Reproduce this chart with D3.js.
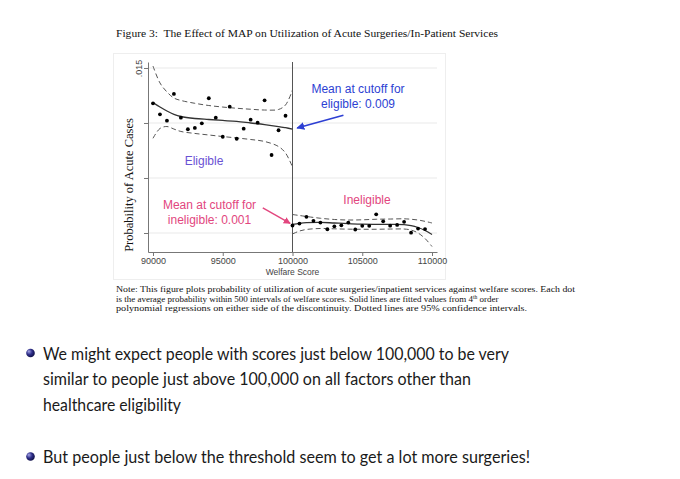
<!DOCTYPE html>
<html>
<head>
<meta charset="utf-8">
<script src="https://cdn.jsdelivr.net/npm/d3@7"></script>
<style>
  body { margin: 0; background: #fff; }
</style>
</head>
<body>
<div id="wrapper"></div>
<script>
// bin midpoints (welfare score) and mean probability per 500-point bin
const leftBins = [90000, 90500, 91000, 91500, 92000, 92500, 93000, 93500, 94000, 94500,
  95000, 95500, 96000, 96500, 97000, 97500, 98000, 98500, 99000, 99500]
const leftMeans = [0.01179, 0.01079, 0.01021, 0.01264, 0.01048, 0.00943, 0.00955, 0.00997, 0.01225, 0.01048,
  0.00875, 0.01148, 0.00857, 0.00948, 0.0103, 0.01003, 0.01206, 0.00709, 0.00934, 0.01066]
const rightBins = [100000, 100500, 101000, 101500, 102000, 102500, 103000, 103500, 104000, 104500,
  105000, 105500, 106000, 106500, 107000, 107500, 108000, 108500, 109000, 109500]
const rightMeans = [0.00068, 0.00086, 0.00147, 0.00111, 0.00095, 0.00034, 0.00061, 0.0007, 0.00095, 0.00032,
  0.00065, 0.00065, 0.0017, 0.00106, 0.00067, 0.00073, 0.00102, 0.00003, 0.0004, 0.00036]

// 4th order polynomial fit + 95% CI
const leftCurveX = [90000, 90500, 91000, 91500, 92000, 93000, 94000, 95000, 96000, 97000, 98000, 99000, 99500, 100000]
const leftFit = [0.01185, 0.01145, 0.01109, 0.01079, 0.01059, 0.01041, 0.01032, 0.01023, 0.01014, 0.01, 0.00986, 0.00968, 0.00957, 0.00945]
const leftUpper = [0.01518, 0.01364, 0.01282, 0.01227, 0.01205, 0.01179, 0.01159, 0.01145, 0.01134, 0.01125, 0.01118, 0.01123, 0.01164, 0.013]
const leftLower = [0.00861, 0.0095, 0.00968, 0.00945, 0.00923, 0.00905, 0.00891, 0.00877, 0.00864, 0.0085, 0.00832, 0.00786, 0.00727, 0.006]

const rightCurveX = [100000, 100500, 101000, 102000, 103000, 104000, 105000, 106000, 107000, 108000, 108500, 109000, 109500, 110000]
const rightFit = [0.00079, 0.00088, 0.00094, 0.00097, 0.00091, 0.00085, 0.0008, 0.00079, 0.00079, 0.00077, 0.00068, 0.0005, 0.00023, -0.00014]
const rightUpper = [0.00168, 0.00159, 0.0015, 0.00134, 0.00123, 0.00118, 0.0012, 0.00125, 0.00127, 0.00129, 0.00125, 0.00118, 0.00106, 0.00091]
const rightLower = [-0.00009, 0.00018, 0.00032, 0.00041, 0.00038, 0.00035, 0.00034, 0.00034, 0.00036, 0.00036, 0.00027, 0.0, -0.0005, -0.00123]

const xTicks = [90000, 95000, 100000, 105000, 110000]
const yTicks = [0, 0.005, 0.01, 0.015]
const cutoff = 100000

const titleText = 'Figure 3:  The Effect of MAP on Utilization of Acute Surgeries/In-Patient Services'
const noteLines = [
  'Note: This figure plots probability of utilization of acute surgeries/inpatient services against welfare scores. Each dot',
  ['is the average probability within 500 intervals of welfare scores. Solid lines are fitted values from 4', 'th', ' order'],
  'polynomial regressions on either side of the discontinuity. Dotted lines are 95% confidence intervals.',
]
const bullets = [
  ['We might expect people with scores just below 100,000 to be very',
    'similar to people just above 100,000 on all factors other than',
    'healthcare eligibility'],
  ['But people just below the threshold seem to get a lot more surgeries!'],
]

const colorBlue = '#2d3fd3'
const colorPurple = '#6a52d4'
const colorPink = '#e2467e'

const svg = d3.select('#wrapper')
  .append('svg')
  .attr('width', 680)
  .attr('height', 479)
  .style('display', 'block')

svg.append('rect').attr('width', 680).attr('height', 479).attr('fill', '#fff')

const defs = svg.append('defs')
const ball = defs.append('radialGradient')
  .attr('id', 'ball')
  .attr('cx', '40%').attr('cy', '40%').attr('r', '60%')
  .attr('fx', '30%').attr('fy', '30%')
ball.append('stop').attr('offset', '0%').attr('stop-color', '#a8a8e8')
ball.append('stop').attr('offset', '55%').attr('stop-color', '#2e2e8a')
ball.append('stop').attr('offset', '100%').attr('stop-color', '#12124a')

;[['arrow-blue', colorBlue], ['arrow-pink', colorPink]].forEach(([id, c]) => {
  defs.append('marker')
    .attr('id', id)
    .attr('viewBox', '0 0 10 10')
    .attr('refX', 9).attr('refY', 5)
    .attr('markerWidth', 5).attr('markerHeight', 5)
    .attr('orient', 'auto')
    .append('path')
    .attr('d', 'M0,0 L10,5 L0,10 z')
    .attr('fill', c)
})

// Title
svg.append('text')
  .attr('x', 116).attr('y', 36.5)
  .attr('textLength', 382).attr('lengthAdjust', 'spacingAndGlyphs')
  .style('white-space', 'pre')
  .style('font-family', '"Liberation Serif", "Times New Roman", serif')
  .style('font-size', '11px')
  .attr('fill', '#111')
  .text(titleText)

// faint frame of the figure image
svg.append('rect')
  .attr('x', 113.5).attr('y', 53.5)
  .attr('width', 332).attr('height', 226)
  .attr('fill', 'none')
  .attr('stroke', '#eeeeee')

// Scales
const xScale = d3.scaleLinear().domain([89642, 110358]).range([148, 437])
const yScale = d3.scaleLinear().domain([-0.001727, 0.015545]).range([252, 62])

const plot = svg.append('g')

// grid
plot.append('g')
  .selectAll('line')
  .data(yTicks)
  .enter()
  .append('line')
  .attr('x1', xScale.range()[0])
  .attr('x2', xScale.range()[1])
  .attr('y1', (d) => yScale(d))
  .attr('y2', (d) => yScale(d))
  .attr('stroke', '#e9e9e9')

// axes
const yAxis = plot.append('g')
  .attr('transform', `translate(${xScale.range()[0]},0)`)
  .call(d3.axisLeft(yScale).tickValues(yTicks).tickSize(4).tickSizeOuter(0)
    .tickFormat((d) => (d === 0.015 ? '.015' : '')))
yAxis.selectAll('text')
  .attr('transform', 'rotate(-90)')
  .attr('x', 0).attr('y', -6).attr('dy', 0)
  .style('text-anchor', 'middle')
  .style('font-family', '"Liberation Sans", Arial, sans-serif')
  .style('font-size', '9px')
  .attr('fill', '#444')

const xAxis = plot.append('g')
  .attr('transform', `translate(0,${yScale.range()[0]})`)
  .call(d3.axisBottom(xScale).tickValues(xTicks).tickSize(4).tickSizeOuter(0).tickFormat(d3.format('d')))
xAxis.selectAll('text')
  .attr('y', 6)
  .style('font-family', '"Liberation Sans", Arial, sans-serif')
  .style('font-size', '9px')
  .attr('fill', '#444')

;[yAxis, xAxis].forEach((a) => {
  a.select('.domain').attr('stroke', '#777')
  a.selectAll('.tick line').attr('stroke', '#777')
})

plot.append('text')
  .attr('x', xScale(cutoff)).attr('y', 274.5)
  .attr('text-anchor', 'middle')
  .style('font-family', '"Liberation Sans", Arial, sans-serif')
  .style('font-size', '8.5px')
  .attr('fill', '#444')
  .text('Welfare Score')

plot.append('text')
  .attr('transform', `translate(133,185) rotate(-90)`)
  .attr('text-anchor', 'middle')
  .style('font-family', '"Liberation Serif", "Times New Roman", serif')
  .style('font-size', '12.5px')
  .attr('fill', '#111')
  .text('Probability of Acute Cases')

// cutoff line
plot.append('line')
  .attr('x1', xScale(cutoff)).attr('x2', xScale(cutoff))
  .attr('y1', yScale.range()[1]).attr('y2', yScale.range()[0])
  .attr('stroke', '#555')
  .attr('stroke-width', 1)

// fitted lines and CIs
const lineGenerator = d3.line()
  .x((d) => xScale(d[0]))
  .y((d) => yScale(d[1]))
  .curve(d3.curveCatmullRom)

const curves = [
  { xs: leftCurveX, ys: leftFit, dash: null },
  { xs: leftCurveX, ys: leftUpper, dash: '5,3' },
  { xs: leftCurveX, ys: leftLower, dash: '5,3' },
  { xs: rightCurveX, ys: rightFit, dash: null },
  { xs: rightCurveX, ys: rightUpper, dash: '5,3' },
  { xs: rightCurveX, ys: rightLower, dash: '5,3' },
]

plot.append('g')
  .selectAll('path')
  .data(curves)
  .enter()
  .append('path')
  .attr('fill', 'none')
  .attr('stroke', (d) => (d.dash ? '#555' : '#333'))
  .attr('stroke-width', (d) => (d.dash ? 1 : 1.3))
  .attr('stroke-dasharray', (d) => d.dash)
  .attr('d', (d) => lineGenerator(d.xs.map((x, i) => [x, d.ys[i]])))

// bin means
const dots = leftBins.map((x, i) => [x, leftMeans[i]])
  .concat(rightBins.map((x, i) => [x, rightMeans[i]]))

plot.append('g')
  .selectAll('circle')
  .data(dots)
  .enter()
  .append('circle')
  .attr('cx', (d) => xScale(d[0]))
  .attr('cy', (d) => yScale(d[1]))
  .attr('r', 1.9)
  .attr('fill', '#000')

// annotations
const annoFont = '"Liberation Sans", Arial, Helvetica, sans-serif'
const annotate = (lines, cx, y0, color) => {
  lines.forEach((t, i) => {
    plot.append('text')
      .attr('x', cx).attr('y', y0 + i * 15.5)
      .attr('text-anchor', 'middle')
      .style('font-family', annoFont)
      .style('font-size', '12px')
      .attr('fill', color)
      .text(t)
  })
}
annotate(['Mean at cutoff for', 'eligible: 0.009'], 358, 92.5, colorBlue)
annotate(['Eligible'], 204, 164.5, colorPurple)
annotate(['Mean at cutoff for', 'ineligible: 0.001'], 209.5, 208.5, colorPink)
annotate(['Ineligible'], 367, 203.5, colorPink)

plot.append('line')
  .attr('x1', xScale(103650)).attr('y1', yScale(0.01071))
  .attr('x2', xScale(100330)).attr('y2', yScale(0.00955))
  .attr('stroke', colorBlue).attr('stroke-width', 1.6)
  .attr('marker-end', 'url(#arrow-blue)')

plot.append('line')
  .attr('x1', xScale(97870)).attr('y1', yScale(0.00229))
  .attr('x2', xScale(99830)).attr('y2', yScale(0.00088))
  .attr('stroke', colorPink).attr('stroke-width', 1.4)
  .attr('marker-end', 'url(#arrow-pink)')

// note under figure
const noteFont = '"Liberation Serif", "Times New Roman", serif'
const noteWidths = [459, 357, 411]
noteLines.forEach((line, i) => {
  const t = svg.append('text')
    .attr('x', 116).attr('y', 292 + i * 9.6)
    .style('font-family', noteFont)
    .style('font-size', '9px')
    .attr('fill', '#111')
  if (Array.isArray(line)) {
    t.append('tspan')
      .attr('textLength', noteWidths[i]).attr('lengthAdjust', 'spacingAndGlyphs')
      .text(line[0])
    t.append('tspan').attr('dy', -3).style('font-size', '5.5px').text(line[1])
    t.append('tspan').attr('dy', 3).text(line[2])
  } else {
    t.attr('textLength', noteWidths[i]).attr('lengthAdjust', 'spacingAndGlyphs')
      .text(line)
  }
})

// slide bullets
const bulletFont = 'Lato, "Open Sans", "DejaVu Sans", sans-serif'
const bulletLayout = [
  { y: 359.5, widths: [466, 428, 138] },
  { y: 463, widths: [487] },
]
bullets.forEach((lines, b) => {
  const { y, widths } = bulletLayout[b]
  svg.append('circle')
    .attr('cx', 30.5).attr('cy', y - 6.5)
    .attr('r', 4.3)
    .attr('fill', 'url(#ball)')
  lines.forEach((t, i) => {
    svg.append('text')
      .attr('x', 43).attr('y', y + i * 25.8)
      .attr('textLength', widths[i]).attr('lengthAdjust', 'spacingAndGlyphs')
      .style('font-family', bulletFont)
      .style('font-size', '18px')
      .attr('fill', '#1a1a1a')
      .text(t)
  })
})
</script>
</body>
</html>
